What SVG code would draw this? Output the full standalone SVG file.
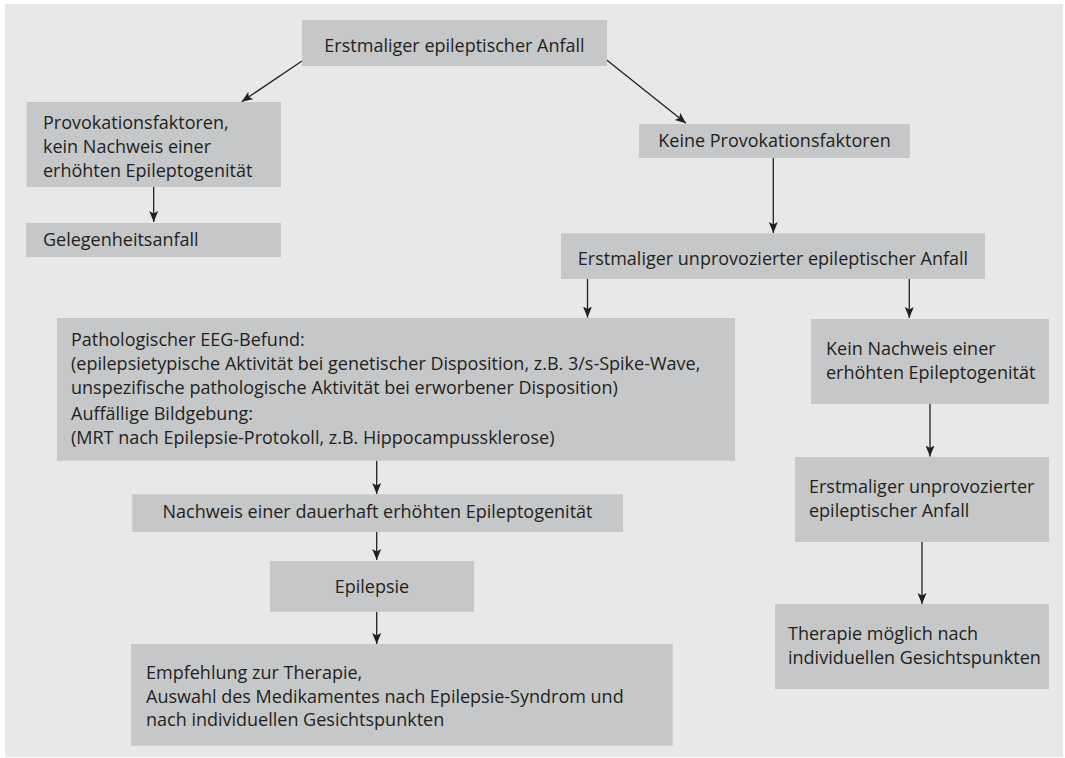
<svg xmlns="http://www.w3.org/2000/svg" width="1065" height="758" viewBox="0 0 1065 758">
<style>
.box{fill:#c6c7c9}
.t{font-family:"Open Sans","Noto Sans","Liberation Sans",sans-serif;font-size:18px;fill:#231f20}
.m{text-anchor:middle}
.c{stroke:#231f20;stroke-width:1.3;fill:none;marker-end:url(#ah)}
</style>
<defs>
<marker id="ah" markerUnits="userSpaceOnUse" markerWidth="11" markerHeight="10" viewBox="0 0 11 10" refX="11" refY="5" orient="auto">
<path d="M0,0.5 L11,5 L0,9.5 L2.5,5 Z" fill="#231f20"/>
</marker>
</defs>
<rect x="0" y="0" width="1065" height="758" fill="#ffffff"/>
<rect x="5" y="4" width="1058" height="753" fill="#e8e8e8"/>

<g id="connectors">
<line class="c" x1="302" y1="61" x2="241.7" y2="101.7"/>
<line class="c" x1="606.7" y1="60" x2="686" y2="123.3"/>
<line class="c" x1="153.7" y1="187" x2="153.7" y2="222"/>
<line class="c" x1="773.3" y1="158" x2="773.3" y2="233"/>
<line class="c" x1="587.5" y1="279" x2="587.5" y2="317.5"/>
<line class="c" x1="909.3" y1="279" x2="909.3" y2="318"/>
<line class="c" x1="376.7" y1="461" x2="376.7" y2="494"/>
<line class="c" x1="376.7" y1="532" x2="376.7" y2="560"/>
<line class="c" x1="376.7" y1="612" x2="376.7" y2="644"/>
<line class="c" x1="930" y1="404" x2="930" y2="456.5"/>
<line class="c" x1="922" y1="542" x2="922" y2="604"/>
</g>

<g id="n-start">
<rect class="box" x="302" y="20" width="305" height="46"/>
<text class="t m" x="454.5" y="51.5">Erstmaliger epileptischer Anfall</text>
</g>

<g id="n-provokation">
<rect class="box" x="26.5" y="102" width="254.5" height="85"/>
<text class="t" x="43" y="128.5">Provokationsfaktoren,</text>
<text class="t" x="43" y="152.5">kein Nachweis einer</text>
<text class="t" x="43" y="176.5">erhöhten Epileptogenität</text>
</g>

<g id="n-gelegenheit">
<rect class="box" x="26" y="223" width="255" height="34"/>
<text class="t" x="43" y="246">Gelegenheitsanfall</text>
</g>

<g id="n-keine">
<rect class="box" x="639" y="124" width="271" height="34"/>
<text class="t m" x="774.5" y="147.3">Keine Provokationsfaktoren</text>
</g>

<g id="n-unprovoziert">
<rect class="box" x="561" y="233.3" width="424" height="45.7"/>
<text class="t m" x="773" y="265">Erstmaliger unprovozierter epileptischer Anfall</text>
</g>

<g id="n-befund">
<rect class="box" x="57" y="318" width="678" height="142.7"/>
<text class="t" x="71" y="345.5">Pathologischer EEG-Befund:</text>
<text class="t" x="71" y="369.5">(epilepsietypische Aktivität bei genetischer Disposition, z.B. 3/s-Spike-Wave,</text>
<text class="t" x="71" y="393.5">unspezifische pathologische Aktivität bei erworbener Disposition)</text>
<text class="t" x="71" y="420">Auffällige Bildgebung:</text>
<text class="t" x="71" y="444">(MRT nach Epilepsie-Protokoll, z.B. Hippocampussklerose)</text>
</g>

<g id="n-nachweis">
<rect class="box" x="132.3" y="494.3" width="490.7" height="37.7"/>
<text class="t m" x="377.5" y="518">Nachweis einer dauerhaft erhöhten Epileptogenität</text>
</g>

<g id="n-epilepsie">
<rect class="box" x="270" y="561" width="204" height="50.7"/>
<text class="t m" x="372" y="592.7">Epilepsie</text>
</g>

<g id="n-empfehlung">
<rect class="box" x="131" y="644" width="541.7" height="101.7"/>
<text class="t" x="146" y="679">Empfehlung zur Therapie,</text>
<text class="t" x="146" y="702.5">Auswahl des Medikamentes nach Epilepsie-Syndrom und</text>
<text class="t" x="146" y="726">nach individuellen Gesichtspunkten</text>
</g>

<g id="n-keinnachweis">
<rect class="box" x="811" y="319" width="238" height="85"/>
<text class="t" x="826" y="355">Kein Nachweis einer</text>
<text class="t" x="826" y="379">erhöhten Epileptogenität</text>
</g>

<g id="n-unprovoziert2">
<rect class="box" x="795" y="457" width="254" height="85"/>
<text class="t" x="809" y="493">Erstmaliger unprovozierter</text>
<text class="t" x="809" y="517">epileptischer Anfall</text>
</g>

<g id="n-therapie">
<rect class="box" x="775" y="604" width="274" height="85"/>
<text class="t" x="788" y="640">Therapie möglich nach</text>
<text class="t" x="788" y="664">individuellen Gesichtspunkten</text>
</g>
</svg>
